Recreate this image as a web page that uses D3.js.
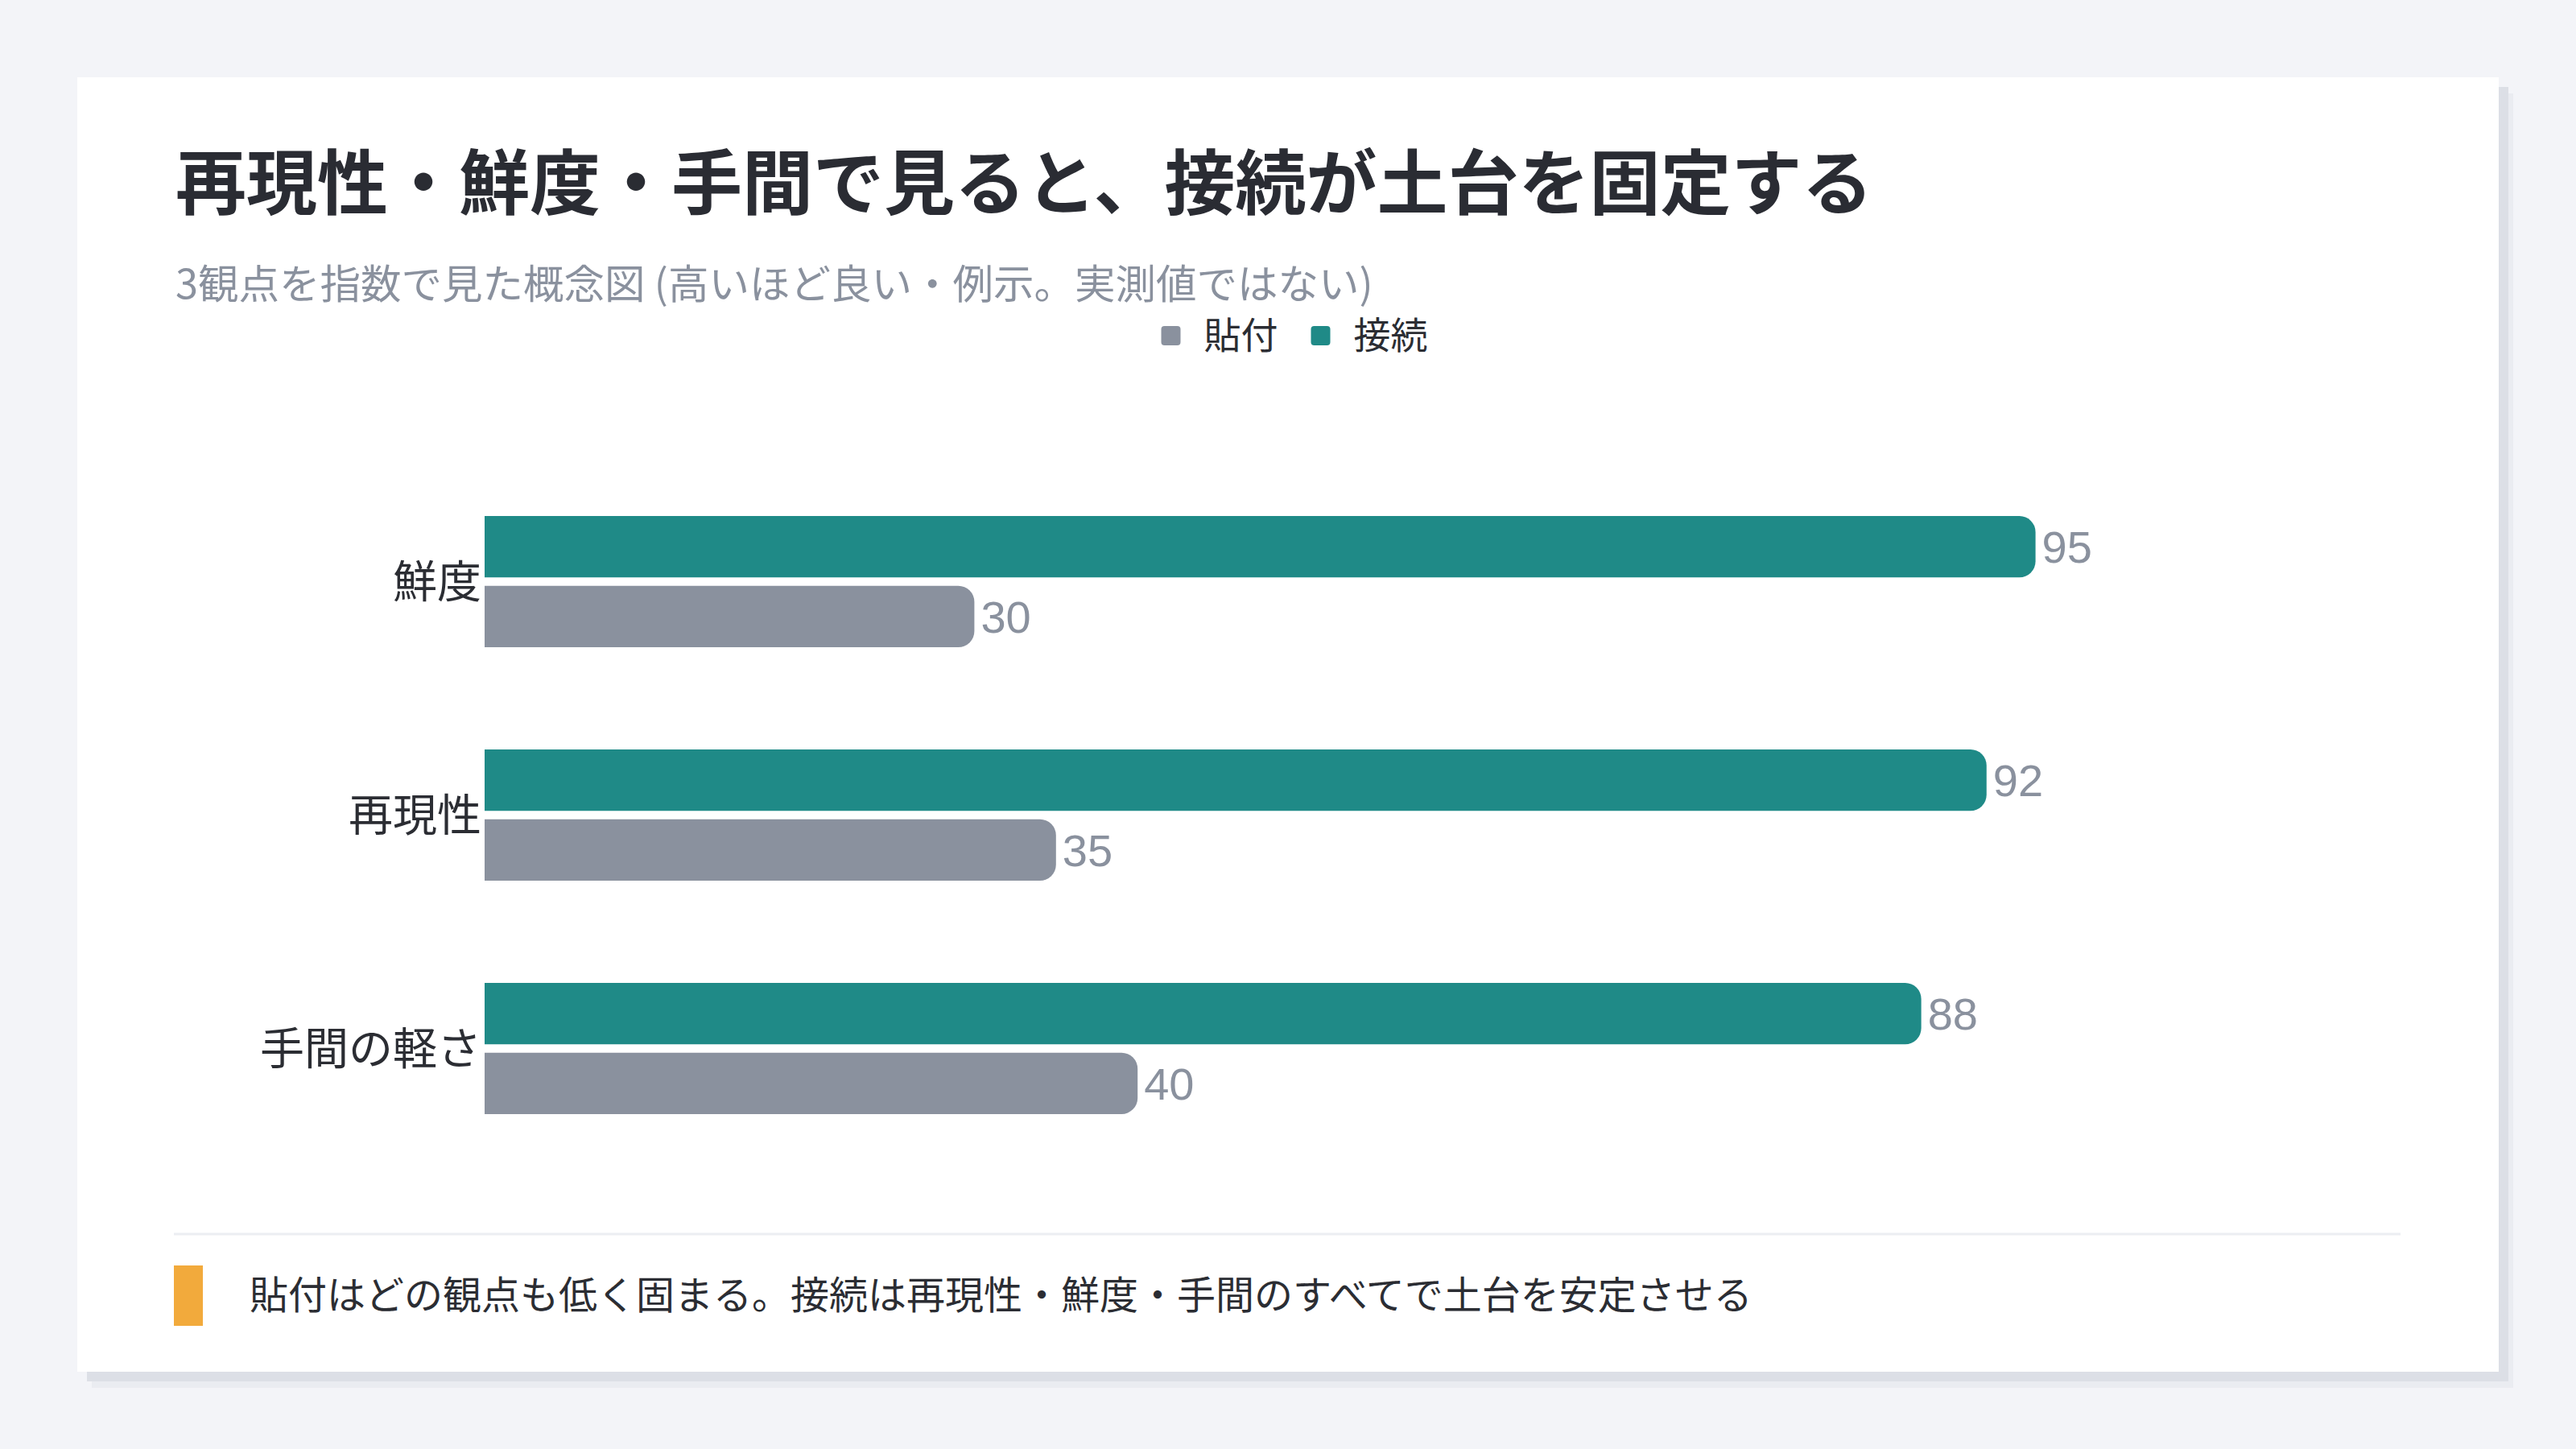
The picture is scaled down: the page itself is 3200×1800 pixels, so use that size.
<!DOCTYPE html>
<html lang="ja">
<head>
<meta charset="utf-8">
<script src="https://cdn.jsdelivr.net/npm/d3@7"></script>
<style>
  html, body { margin: 0; padding: 0; background: #f3f4f8; }
  svg { display: block; font-family: "Noto Sans CJK JP", "Noto Sans", sans-serif; }
</style>
</head>
<body>
<div id="chart"></div>
<script>
// data
const categories = ["鮮度", "再現性", "手間の軽さ"];
const seriesNames = ["貼付", "接続"];
const pasteValues = [30, 35, 40];
const connectValues = [95, 92, 88];
const barOrder = ["接続", "貼付"]; // top to bottom inside each group

const titleText = "再現性・鮮度・手間で見ると、接続が土台を固定する";
const subtitleText = "3観点を指数で見た概念図 (高いほど良い・例示。実測値ではない)";
const noteText = "貼付はどの観点も低く固まる。接続は再現性・鮮度・手間のすべてで土台を安定させる";

const colors = { "貼付": "#8a919e", "接続": "#1f8a87" };

const width = 3200, height = 1800;
const card = { x: 96, y: 96, w: 3008, h: 1608 };

const svg = d3.select("#chart").append("svg")
  .attr("width", width)
  .attr("height", height);

// card + shadow
svg.append("rect").attr("x", card.x + 18).attr("y", card.y + 20)
  .attr("width", card.w).attr("height", card.h).attr("fill", "#eaecf1");
svg.append("rect").attr("x", card.x + 12).attr("y", card.y + 12)
  .attr("width", card.w).attr("height", card.h).attr("fill", "#dcdfe6");
svg.append("rect").attr("x", card.x).attr("y", card.y)
  .attr("width", card.w).attr("height", card.h).attr("fill", "#ffffff");

// title + subtitle
svg.append("text")
  .attr("x", 218).attr("y", 259)
  .attr("font-size", 88).attr("font-weight", 700)
  .attr("fill", "#2a2c33")
  .text(titleText);

svg.append("text")
  .attr("x", 218).attr("y", 371)
  .attr("font-size", 50.5)
  .attr("fill", "#8a919e")
  .text(subtitleText);

// legend
const legend = svg.append("g").attr("transform", "translate(0,417)");
let lx = 0;
const legendItems = legend.selectAll("g").data(seriesNames).join("g");
legendItems.append("rect")
  .attr("y", -12).attr("width", 24).attr("height", 24).attr("rx", 4)
  .attr("fill", (d) => colors[d]);
legendItems.append("text")
  .attr("x", 53).attr("dy", "0.35em")
  .attr("font-size", 46).attr("fill", "#2b2d33")
  .text((d) => d);
legendItems.each(function () {
  d3.select(this).attr("transform", `translate(${lx},0)`);
  lx += 53 + d3.select(this).select("text").node().getComputedTextLength() + 41;
});
lx -= 41;
legend.attr("transform", `translate(${1608 - lx / 2},417)`);

// scales
const x = d3.scaleLinear().domain([0, 100]).range([602, 2630]);
const y = d3.scaleBand().domain(categories).range([514, 1511])
  .paddingInner(0.438).paddingOuter(0.438);
const yInner = d3.scaleBand().domain(barOrder).range([0, y.bandwidth()])
  .paddingInner(0.12);

const rows = [];
categories.forEach((c, i) => {
  rows.push({ cat: c, series: "接続", value: connectValues[i] });
  rows.push({ cat: c, series: "貼付", value: pasteValues[i] });
});

// bar with rounded right end
function barPath(d) {
  const x0 = x(0), x1 = x(d.value);
  const y0 = y(d.cat) + yInner(d.series), h = yInner.bandwidth();
  const r = Math.min(20, (x1 - x0), h / 2);
  return `M${x0},${y0}H${x1 - r}A${r},${r} 0 0 1 ${x1},${y0 + r}` +
    `V${y0 + h - r}A${r},${r} 0 0 1 ${x1 - r},${y0 + h}H${x0}Z`;
}

svg.append("g").selectAll("path")
  .data(rows)
  .join("path")
  .attr("d", barPath)
  .attr("fill", (d) => colors[d.series]);

svg.append("g").selectAll("text")
  .data(rows)
  .join("text")
  .attr("x", (d) => x(d.value) + 8)
  .attr("y", (d) => y(d.cat) + yInner(d.series) + yInner.bandwidth() / 2)
  .attr("dy", "0.36em")
  .attr("font-family", "'Liberation Sans', Arial, sans-serif")
  .attr("font-size", 56)
  .attr("fill", "#8a919e")
  .text((d) => d.value);

// category labels
svg.append("g").selectAll("text")
  .data(categories)
  .join("text")
  .attr("x", 598)
  .attr("y", (d) => y(d) + y.bandwidth() / 2)
  .attr("dy", "0.35em")
  .attr("text-anchor", "end")
  .attr("font-size", 55)
  .attr("fill", "#2b2d33")
  .text((d) => d);

// footer note
svg.append("line")
  .attr("x1", 216).attr("x2", 2982)
  .attr("y1", 1533).attr("y2", 1533)
  .attr("stroke", "#eceef2").attr("stroke-width", 3);
svg.append("rect")
  .attr("x", 216).attr("y", 1572).attr("width", 36).attr("height", 75)
  .attr("fill", "#f2aa3c");
svg.append("text")
  .attr("x", 310).attr("y", 1609).attr("dy", "0.35em")
  .attr("font-size", 48).attr("fill", "#2b2d33")
  .text(noteText);
</script>
</body>
</html>
